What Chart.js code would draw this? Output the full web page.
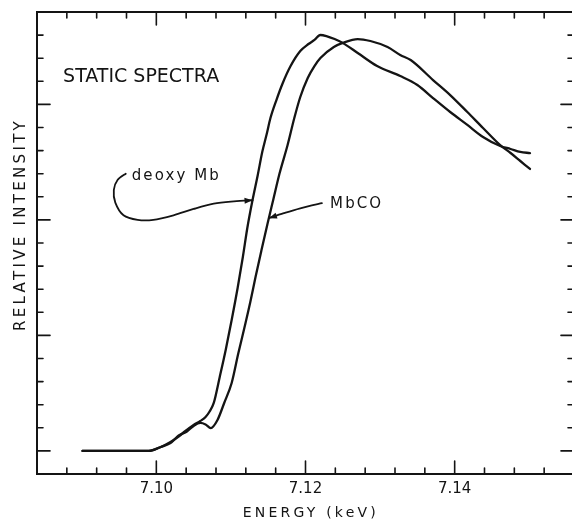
<!DOCTYPE html>
<html>
<head>
<meta charset="utf-8">
<script src="https://cdn.jsdelivr.net/npm/chart.js@4.4.0/dist/chart.umd.min.js"></script>
<style>
  html, body { margin: 0; padding: 0; background: #fff; overflow: hidden; width: 572px; height: 520px; }
  #wrap { width: 572px; height: 520px; overflow: hidden; }
  canvas { display: block; width: 580px; height: 520px; }
</style>
</head>
<body>
<div id="wrap"><canvas id="c" width="580" height="520"></canvas></div>
<script>
// Fe K-edge XANES, static spectra of deoxy myoglobin and MbCO
const energyDeoxy = [7.0901, 7.0990, 7.1006, 7.1019, 7.1029, 7.1039, 7.1050, 7.1059, 7.1066, 7.1071,
  7.1077, 7.1085, 7.1093, 7.1101, 7.1109, 7.1116, 7.1122, 7.1129, 7.1136, 7.1142,
  7.1148, 7.1153, 7.1161, 7.1169, 7.1180, 7.1193, 7.1204, 7.1212, 7.1220, 7.1228,
  7.1239, 7.1250, 7.1270, 7.1296, 7.1327, 7.1350, 7.1371, 7.1394, 7.1417, 7.1438,
  7.1461, 7.1475, 7.1488, 7.1501];
const intensityDeoxy = [0.00, 0.00, 0.034, 0.077, 0.120, 0.172, 0.224, 0.259, 0.294, 0.337,
  0.415, 0.640, 0.874, 1.133, 1.410, 1.679, 1.930, 2.172, 2.389, 2.588,
  2.744, 2.882, 3.038, 3.177, 3.332, 3.462, 3.523, 3.558, 3.601, 3.592,
  3.566, 3.532, 3.445, 3.332, 3.246, 3.168, 3.055, 2.934, 2.822, 2.718,
  2.640, 2.614, 2.588, 2.579];

const energyMbCO = [7.0901, 7.0990, 7.1006, 7.1019, 7.1030, 7.1041, 7.1050, 7.1059, 7.1066, 7.1073,
  7.1082, 7.1091, 7.1101, 7.1110, 7.1118, 7.1126, 7.1133, 7.1141, 7.1149, 7.1157,
  7.1165, 7.1176, 7.1185, 7.1193, 7.1203, 7.1212, 7.1220, 7.1238, 7.1250, 7.1270,
  7.1287, 7.1310, 7.1327, 7.1341, 7.1371, 7.1394, 7.1417, 7.1438, 7.1461, 7.1475,
  7.1488, 7.1501];
const intensityMbCO = [0.00, 0.00, 0.034, 0.068, 0.133, 0.168, 0.216, 0.242, 0.229, 0.198,
  0.268, 0.415, 0.588, 0.848, 1.064, 1.289, 1.506, 1.739, 1.965, 2.181,
  2.397, 2.648, 2.882, 3.064, 3.229, 3.332, 3.402, 3.497, 3.532, 3.566,
  3.549, 3.497, 3.428, 3.384, 3.211, 3.081, 2.934, 2.796, 2.648, 2.579,
  2.510, 2.441];

// axes
const energyRange = [7.084, 7.156];
const energyMinorStep = 0.004;
const energyTickLabels = ['7.10', '7.12', '7.14'];
const intensityRange = [-0.2, 3.8];
const intensityMinorStep = 0.2;
const intensityMajorTicks = [0, 1, 2, 3];

// texts
const panelTitle = 'STATIC SPECTRA';
const xTitle = 'ENERGY (keV)';
const yTitle = 'RELATIVE INTENSITY';
const seriesNames = ['deoxy Mb', 'MbCO'];

// text anchors and leader lines, in energy / intensity units
const panelTitleAt = [7.0875, 3.198];
const seriesNameAt = [[7.0967, 2.345], [7.1233, 2.103]];
const deoxyLeader = [[7.0959, 2.40], [7.0948, 2.345], [7.0943, 2.26], [7.0945, 2.15], [7.0956, 2.04],
  [7.0975, 2.00], [7.0996, 2.00], [7.1023, 2.04], [7.1050, 2.095], [7.1077, 2.14], [7.1104, 2.16], [7.1129, 2.17]];
const mbcoLeader = [[7.1222, 2.145], [7.1193, 2.10], [7.1171, 2.058], [7.1151, 2.015]];

const INK = '#141414';
const FONT = '"DejaVu Sans", "Liberation Sans", sans-serif';

function stepTicks(min, max, step) {
  const n = Math.round((max - min) / step);
  const out = [];
  for (let i = 0; i <= n; i++) out.push({ value: +(min + i * step).toFixed(4) });
  return out;
}

function energyLabel(v) {
  const s = v.toFixed(2);
  return (energyTickLabels.includes(s) && Math.abs(v - parseFloat(s)) < 1e-6) ? s : '';
}

function smoothPath(ctx, pts) {
  ctx.beginPath();
  ctx.moveTo(pts[0][0], pts[0][1]);
  for (let i = 0; i < pts.length - 1; i++) {
    const p0 = pts[Math.max(i - 1, 0)], p1 = pts[i], p2 = pts[i + 1], p3 = pts[Math.min(i + 2, pts.length - 1)];
    const c1 = [p1[0] + (p2[0] - p0[0]) / 6, p1[1] + (p2[1] - p0[1]) / 6];
    const c2 = [p2[0] - (p3[0] - p1[0]) / 6, p2[1] - (p3[1] - p1[1]) / 6];
    ctx.bezierCurveTo(c1[0], c1[1], c2[0], c2[1], p2[0], p2[1]);
  }
  ctx.stroke();
}

function arrowHead(ctx, from, tip, len, half) {
  const dx = tip[0] - from[0], dy = tip[1] - from[1];
  const d = Math.hypot(dx, dy) || 1;
  const ux = dx / d, uy = dy / d;
  ctx.beginPath();
  ctx.moveTo(tip[0], tip[1]);
  ctx.lineTo(tip[0] - ux * len - uy * half, tip[1] - uy * len + ux * half);
  ctx.lineTo(tip[0] - ux * len + uy * half, tip[1] - uy * len - ux * half);
  ctx.closePath();
  ctx.fill();
}

const framePlugin = {
  id: 'frameAndNotes',
  afterDatasetsDraw(chart) {
    const { ctx, chartArea: a, scales: { x, y } } = chart;
    const right = x.getPixelForValue(energyRange[1]);
    ctx.save();
    ctx.strokeStyle = INK;
    ctx.fillStyle = INK;
    ctx.lineCap = 'round';

    // frame box
    ctx.lineWidth = 2;
    ctx.strokeRect(a.left, a.top, right - a.left, a.bottom - a.top);

    // inward tick marks on all four sides
    ctx.lineWidth = 1.6;
    const MAJ = 13, MIN = 6;
    x.ticks.forEach(t => {
      const px = x.getPixelForValue(t.value);
      const len = energyLabel(t.value) ? MAJ : MIN;
      ctx.beginPath();
      ctx.moveTo(px, a.bottom); ctx.lineTo(px, a.bottom - len);
      ctx.moveTo(px, a.top); ctx.lineTo(px, a.top + len);
      ctx.stroke();
    });
    y.ticks.forEach(t => {
      const py = y.getPixelForValue(t.value);
      const len = intensityMajorTicks.some(m => Math.abs(m - t.value) < 1e-6) ? MAJ : MIN;
      ctx.beginPath();
      ctx.moveTo(a.left, py); ctx.lineTo(a.left + len, py);
      ctx.moveTo(right, py); ctx.lineTo(right - len, py);
      ctx.stroke();
    });

    // axis titles
    ctx.textBaseline = 'alphabetic';
    ctx.font = '14px ' + FONT;
    ctx.letterSpacing = '3.2px';
    ctx.textAlign = 'center';
    ctx.fillText(xTitle, x.getPixelForValue(7.1205) + 1.6, 517);
    ctx.save();
    ctx.font = '15px ' + FONT;
    ctx.letterSpacing = '3.3px';
    ctx.translate(25, y.getPixelForValue(1.947));
    ctx.rotate(-Math.PI / 2);
    ctx.fillText(yTitle, 1.6, 0);
    ctx.restore();

    // panel title
    ctx.textAlign = 'left';
    ctx.font = '19px ' + FONT;
    ctx.letterSpacing = '0px';
    ctx.fillText(panelTitle, x.getPixelForValue(panelTitleAt[0]), y.getPixelForValue(panelTitleAt[1]));

    // series names
    ctx.font = '15px ' + FONT;
    ctx.letterSpacing = '2.1px';
    seriesNames.forEach((name, i) => {
      ctx.fillText(name, x.getPixelForValue(seriesNameAt[i][0]), y.getPixelForValue(seriesNameAt[i][1]));
    });
    ctx.letterSpacing = '0px';

    // leader lines with arrowheads
    ctx.lineWidth = 1.8;
    [deoxyLeader, mbcoLeader].forEach(line => {
      const pts = line.map(p => [x.getPixelForValue(p[0]), y.getPixelForValue(p[1])]);
      smoothPath(ctx, pts);
      arrowHead(ctx, pts[pts.length - 2], pts[pts.length - 1], 8, 3);
    });
    ctx.restore();
  }
};

new Chart(document.getElementById('c'), {
  type: 'line',
  data: {
    datasets: [
      { label: seriesNames[0], data: energyDeoxy.map((e, i) => ({ x: e, y: intensityDeoxy[i] })) },
      { label: seriesNames[1], data: energyMbCO.map((e, i) => ({ x: e, y: intensityMbCO[i] })) }
    ]
  },
  options: {
    responsive: false,
    animation: false,
    layout: { padding: { top: 12, right: 6, left: 0, bottom: 0 } },
    elements: {
      line: { borderColor: INK, borderWidth: 2.3, cubicInterpolationMode: 'monotone', fill: false, borderCapStyle: 'round', borderJoinStyle: 'round' },
      point: { radius: 0 }
    },
    plugins: { legend: { display: false }, tooltip: { enabled: false } },
    scales: {
      x: {
        type: 'linear',
        min: energyRange[0], max: energyRange[1],
        afterBuildTicks: s => { s.ticks = stepTicks(energyRange[0], energyRange[1], energyMinorStep); },
        afterFit: s => { s.height = 46; s.paddingLeft = 0; s.paddingRight = 0; },
        grid: { display: false, drawTicks: false },
        border: { display: false },
        ticks: {
          autoSkip: false, maxRotation: 0, padding: 6.5,
          color: INK, font: { family: FONT, size: 15 },
          callback: v => energyLabel(v)
        }
      },
      y: {
        type: 'linear',
        min: intensityRange[0], max: intensityRange[1],
        afterBuildTicks: s => { s.ticks = stepTicks(intensityRange[0], intensityRange[1], intensityMinorStep); },
        afterFit: s => { s.width = 37; s.paddingTop = 0; s.paddingBottom = 0; },
        grid: { display: false, drawTicks: false },
        border: { display: false },
        ticks: { display: false }
      }
    }
  },
  plugins: [framePlugin]
});
</script>
</body>
</html>
